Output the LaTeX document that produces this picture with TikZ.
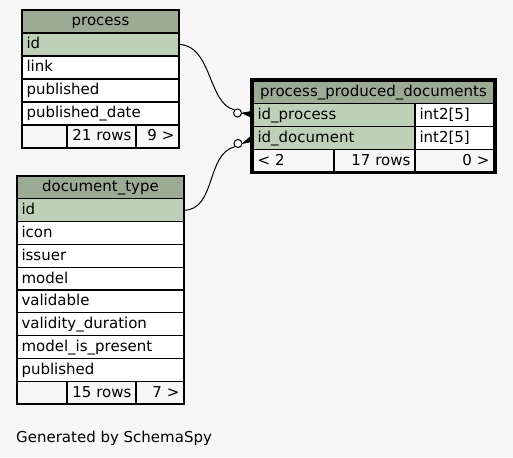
\documentclass[tikz,border=0pt]{standalone}
\usepackage{fontspec}
\setmainfont{DejaVu Sans}
\definecolor{bgc}{HTML}{F7F7F7}
\definecolor{headc}{HTML}{9BAB96}
\definecolor{keyc}{HTML}{BED1B8}
\begin{document}
\begin{tikzpicture}[x=1pt,y=-1pt,
  cell/.style={draw=black, line width=1.2pt, anchor=north west, inner xsep=4.5pt, inner ysep=0pt,
     minimum height=#1, text height=12pt, text depth=3pt, outer sep=0pt,
     font=\fontsize{15}{18}\selectfont},
  cell/.default=23pt,
  lcell/.style 2 args={cell=#2, text width=#1-9pt, align=left},
  rcell/.style 2 args={cell=#2, text width=#1-9pt, align=right},
  ccell/.style 2 args={cell=#2, text width=#1-9pt, align=center},
  hd/.style={fill=headc},
  key/.style={fill=keyc},
  body/.style={fill=white},
  foot/.style={fill=bgc},
  conn/.style={draw=black, line width=1pt},
  odot/.style={circle, draw=black, fill=white, line width=1pt, minimum size=8pt, inner sep=0pt},
  crow/.style={fill=black, draw=black, line width=0.6pt, line join=round}
]
\useasboundingbox (0,0) rectangle (513,457);
\fill[bgc] (0,0) rectangle (513,457);

% ---------- process ----------
\node[ccell={157pt}{23pt}, hd]   (p-h)   at (22,10)  {process};
\node[lcell={157pt}{23pt}, key]  (p-id)  at (22,33)  {id};
\node[lcell={157pt}{23pt}, body] (p-l)   at (22,56)  {link};
\node[lcell={157pt}{23pt}, body] (p-p)   at (22,79)  {published};
\node[lcell={157pt}{23pt}, body] (p-pd)  at (22,102) {published\_date};
\node[lcell={45pt}{23pt}, foot]  (p-f1)  at (22,125) {};
\node[rcell={69pt}{23pt}, foot]  (p-f2)  at (67,125) {21 rows};
\node[rcell={43pt}{23pt}, foot]  (p-f3)  at (136,125) {9 >};

% ---------- document_type ----------
\node[ccell={167pt}{22.8pt}, hd]   (d-h)  at (17,176)   {document\_type};
\node[lcell={167pt}{22.8pt}, key]  (d-id) at (17,198.8) {id};
\node[lcell={167pt}{22.8pt}, body] (d-1)  at (17,221.6) {icon};
\node[lcell={167pt}{22.8pt}, body] (d-2)  at (17,244.4) {issuer};
\node[lcell={167pt}{22.8pt}, body] (d-3)  at (17,267.2) {model};
\node[lcell={167pt}{22.8pt}, body] (d-4)  at (17,290)   {validable};
\node[lcell={167pt}{22.8pt}, body] (d-5)  at (17,312.8) {validity\_duration};
\node[lcell={167pt}{22.8pt}, body] (d-6)  at (17,335.6) {model\_is\_present};
\node[lcell={167pt}{22.8pt}, body] (d-7)  at (17,358.4) {published};
\node[lcell={50pt}{22.8pt}, foot]  (d-f1) at (17,381.2) {};
\node[rcell={69pt}{22.8pt}, foot]  (d-f2) at (67,381.2) {15 rows};
\node[rcell={48pt}{22.8pt}, foot]  (d-f3) at (136,381.2) {7 >};

% ---------- process_produced_documents ----------
\node[ccell={241pt}{22.75pt}, hd]   (q-h)   at (253,81)     {process\_produced\_documents};
\node[lcell={162pt}{22.75pt}, key]  (q-ip)  at (253,103.75) {id\_process};
\node[lcell={79pt}{22.75pt}, body]  (q-ipt) at (415,103.75) {int2[5]};
\node[lcell={162pt}{22.75pt}, key]  (q-id)  at (253,126.5)  {id\_document};
\node[lcell={79pt}{22.75pt}, body]  (q-idt) at (415,126.5)  {int2[5]};
\node[lcell={81pt}{22.75pt}, foot]  (q-f1)  at (253,149.25) {< 2};
\node[rcell={81pt}{22.75pt}, foot]  (q-f2)  at (334,149.25) {17 rows};
\node[rcell={79pt}{22.75pt}, foot]  (q-f3)  at (415,149.25) {0 >};
\draw[line width=3pt] (251.5,79.5) rectangle (495.5,172.5);

% ---------- connectors ----------
\node[odot] (c1) at (237.5,113) {};
\node[odot] (c2) at (238,143.5) {};
\draw[conn] (p-id.east) .. controls (212,45) and (208,104) .. (c1.north west);
\draw[conn] (d-id.east) .. controls (216,210) and (206,154) .. (c2.south west);
\coordinate (k1) at ([yshift=1.5pt]q-ip.west);
\coordinate (k2) at ([yshift=-1pt]q-id.west);
\filldraw[crow] (c1.east) -- ([yshift=-4.5pt]k1) -- ([yshift=2.5pt]k1) -- cycle;
\filldraw[crow] (c2.east) -- ([yshift=-2.5pt]k2) -- ([yshift=4.5pt]k2) -- cycle;

% ---------- caption ----------
\node[anchor=base west, inner sep=0pt, font=\fontsize{15}{18}\selectfont] (cap) at (16,442) {Generated by SchemaSpy};
\end{tikzpicture}
\end{document}
